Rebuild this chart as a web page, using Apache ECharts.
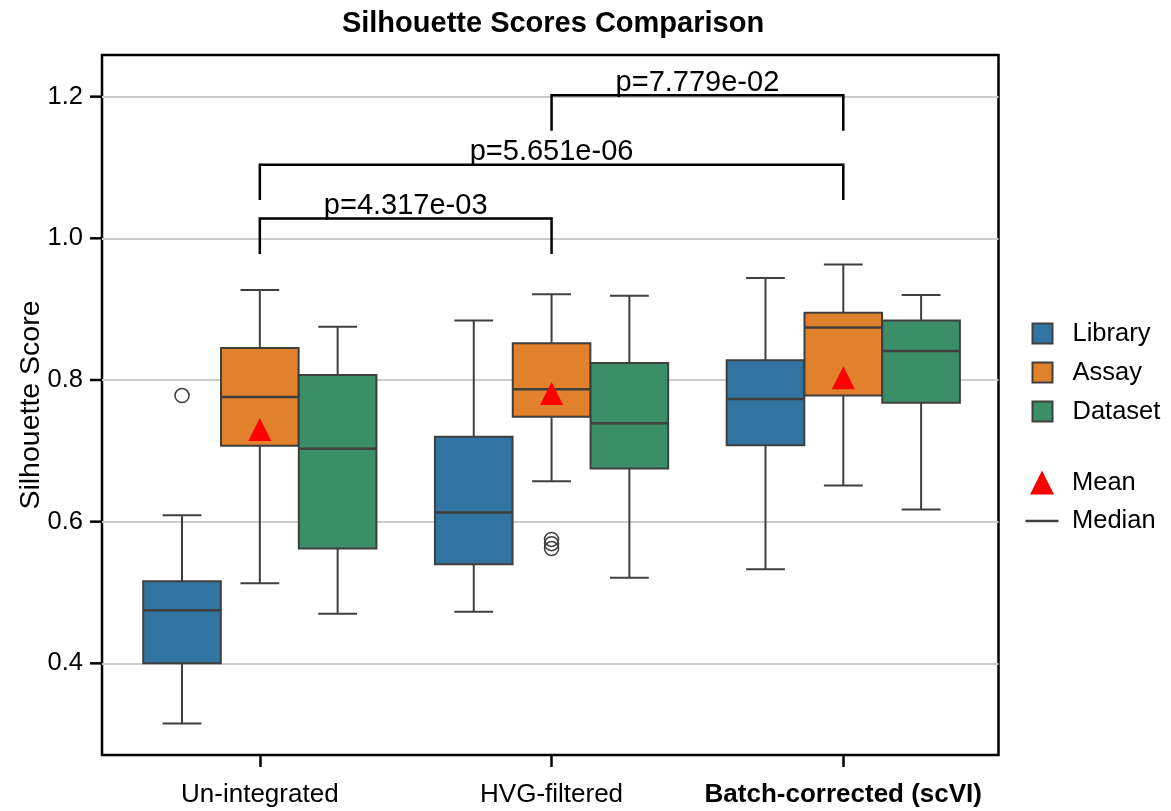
<!DOCTYPE html>
<html><head><meta charset="utf-8">
<script src="https://cdn.jsdelivr.net/npm/echarts@6/dist/echarts.min.js"></script>
<style>html,body{margin:0;padding:0;background:#fff;}#chart{width:1171px;height:811px;}</style>
</head><body><div id="chart"></div>
<script>
// ---------------- data ----------------
const groups = ['Un-integrated', 'HVG-filtered', 'Batch-corrected (scVI)'];
const hues = ['Library', 'Assay', 'Dataset'];
// per group: [whiskerLow, Q1, median, Q3, whiskerHigh]
const libraryBox = [
  [0.315, 0.400, 0.475, 0.516, 0.609],
  [0.473, 0.540, 0.613, 0.720, 0.884],
  [0.533, 0.708, 0.773, 0.828, 0.944]
];
const assayBox = [
  [0.513, 0.707, 0.776, 0.845, 0.927],
  [0.657, 0.748, 0.787, 0.852, 0.921],
  [0.651, 0.778, 0.874, 0.895, 0.963]
];
const datasetBox = [
  [0.470, 0.562, 0.703, 0.807, 0.875],
  [0.521, 0.675, 0.739, 0.824, 0.919],
  [0.617, 0.768, 0.841, 0.884, 0.920]
];
// outliers: [groupIndex, value]
const libraryFliers = [[0, 0.778]];
const assayFliers = [[1, 0.575], [1, 0.569], [1, 0.562]];
const datasetFliers = [];
// means of the Assay boxes
const assayMeans = [0.730, 0.781, 0.803];
// significance brackets
const bracketPairs = [[0, 1], [0, 2], [1, 2]];
const bracketLevels = [1.028, 1.104, 1.202];
const pValues = ['p=4.317e-03', 'p=5.651e-06', 'p=7.779e-02'];
const yTicks = [0.4, 0.6, 0.8, 1.0, 1.2];

// ---------------- styling ----------------
const FONT = "'Liberation Sans', Arial, Helvetica, sans-serif";
const colors = ['#3274a1', '#e1812c', '#3a8f69'];
const edgeColor = '#3f3f3f';
const hueOffsets = [-0.2667, 0, 0.2667];
const boxWidth = 0.266;
const bracketDrop = 0.05;
const X_MIN = -0.541, X_MAX = 2.532;
const TICK_LEN = 12;

function boxRenderer(hueIdx) {
  return function (params, api) {
    const g = api.value(0);
    const cx = g + hueOffsets[hueIdx];
    const w = api.size([boxWidth, 0])[0];
    const pLow = api.coord([cx, api.value(1)]);
    const pQ1 = api.coord([cx, api.value(2)]);
    const pMed = api.coord([cx, api.value(3)]);
    const pQ3 = api.coord([cx, api.value(4)]);
    const pHigh = api.coord([cx, api.value(5)]);
    const x = pQ1[0];
    const half = w / 2, cap = w / 4;
    const ls = { stroke: edgeColor, lineWidth: 2 };
    return {
      type: 'group', children: [
        { type: 'line', shape: { x1: x, y1: pQ1[1], x2: x, y2: pLow[1] }, style: ls },
        { type: 'line', shape: { x1: x, y1: pQ3[1], x2: x, y2: pHigh[1] }, style: ls },
        { type: 'line', shape: { x1: x - cap, y1: pLow[1], x2: x + cap, y2: pLow[1] }, style: ls },
        { type: 'line', shape: { x1: x - cap, y1: pHigh[1], x2: x + cap, y2: pHigh[1] }, style: ls },
        { type: 'rect', shape: { x: x - half, y: pQ3[1], width: w, height: pQ1[1] - pQ3[1] },
          style: { fill: colors[hueIdx], stroke: edgeColor, lineWidth: 2 } },
        { type: 'line', shape: { x1: x - half, y1: pMed[1], x2: x + half, y2: pMed[1] },
          style: { stroke: edgeColor, lineWidth: 2.5 } }
      ]
    };
  };
}

function bracketRenderer(params, api) {
  const x1 = api.value(0), x2 = api.value(1), y = api.value(2);
  const a = api.coord([x1, y - bracketDrop]);
  const b = api.coord([x1, y]);
  const c = api.coord([x2, y]);
  const d = api.coord([x2, y - bracketDrop]);
  return {
    type: 'group', children: [
      { type: 'polyline', shape: { points: [a, b, c, d] },
        style: { stroke: '#000', lineWidth: 2.5, fill: 'none' } },
      { type: 'text', x: (b[0] + c[0]) / 2, y: b[1] + 2,
        style: { text: pValues[params.dataIndex], fill: '#000', font: '29px ' + FONT,
                 align: 'center', verticalAlign: 'bottom' } }
    ]
  };
}

const boxSets = [libraryBox, assayBox, datasetBox];
const flierSets = [libraryFliers, assayFliers, datasetFliers];

const series = [];
hues.forEach((h, i) => {
  series.push({
    name: h, type: 'custom', renderItem: boxRenderer(i),
    itemStyle: { color: colors[i] },
    encode: { x: 0, y: [1, 2, 3, 4, 5] },
    data: boxSets[i].map((s, g) => [g].concat(s)),
    z: 3
  });
});
hues.forEach((h, i) => {
  if (!flierSets[i].length) return;
  series.push({
    name: h + ' outliers', type: 'scatter', symbol: 'circle', symbolSize: 14,
    itemStyle: { color: 'rgba(0,0,0,0)', borderColor: edgeColor, borderWidth: 1.5, opacity: 1 },
    data: flierSets[i].map(p => [p[0] + hueOffsets[i], p[1]]),
    z: 4
  });
});
series.push({
  name: 'Mean', type: 'scatter', symbol: 'triangle', symbolSize: 23,
  itemStyle: { color: '#ff0000', opacity: 1 },
  data: assayMeans.map((m, g) => [g + hueOffsets[1], m]),
  z: 6
});
series.push({ name: 'Median', type: 'scatter', itemStyle: { color: edgeColor, opacity: 1 }, data: [] });
series.push({
  name: 'brackets', type: 'custom', renderItem: bracketRenderer,
  data: bracketPairs.map((p, i) => [p[0], p[1], bracketLevels[i]]),
  encode: { x: [0, 1], y: 2 },
  z: 5, silent: true
});

const squareIcon = 'path://M0,0 L20,0 L20,20 L0,20 Z';
const triIcon = 'path://M12,0 L24,24 L0,24 Z';
const medIcon = 'path://M-8.5,-12 L-8.5,-12 M0,-1.25 L33,-1.25 L33,1.25 L0,1.25 Z M41.5,12 L41.5,12';

const option = {
  animation: false,
  backgroundColor: '#fff',
  textStyle: { fontFamily: FONT },
  title: {
    text: 'Silhouette Scores Comparison', left: 548, top: 4, textAlign: 'center',
    textStyle: { fontSize: 29, fontWeight: 'bold', color: '#000', fontFamily: FONT }
  },
  legend: [
    {
      orient: 'vertical', left: 1026.5, top: 315.5, itemWidth: 50, itemHeight: 20, itemGap: 13,
      data: hues.map(h => ({ name: h, icon: squareIcon })),
      itemStyle: { borderColor: edgeColor, borderWidth: 2 },
      textStyle: { fontSize: 25.5, color: '#000', fontFamily: FONT },
      selectedMode: false
    },
    {
      orient: 'vertical', left: 1012, top: 464.5, itemWidth: 50, itemHeight: 24, itemGap: 12.5,
      data: [{ name: 'Mean', icon: triIcon }, { name: 'Median', icon: medIcon }],
      itemStyle: { borderWidth: 0, opacity: 1 },
      textStyle: { fontSize: 25.5, color: '#000', fontFamily: FONT },
      selectedMode: false
    }
  ],
  grid: {
    left: 102, right: 172.5, top: 55, bottom: 56, containLabel: false,
    show: true, borderColor: '#000', borderWidth: 2.5, backgroundColor: 'transparent'
  },
  xAxis: {
    type: 'value', min: X_MIN, max: X_MAX, position: 'bottom',
    axisLine: { show: false, onZero: false },
    splitLine: { show: false },
    axisTick: { show: true, customValues: [0, 1, 2], length: TICK_LEN, lineStyle: { color: '#000', width: 2.5 } },
    axisLabel: {
      customValues: [0, 1, 2], margin: 27, fontSize: 26, color: '#000', fontFamily: FONT,
      formatter: v => {
        const i = Math.round(v);
        return i === 2 ? '{b|' + groups[i] + '}' : groups[i];
      },
      rich: { b: { fontWeight: 'bold', fontSize: 26, color: '#000', fontFamily: FONT } }
    }
  },
  yAxis: {
    type: 'value', min: 0.2706, max: 1.2588, position: 'left',
    name: 'Silhouette Score', nameLocation: 'middle', nameRotate: 90, nameGap: 56,
    nameMoveOverlap: false,
    nameTextStyle: { fontSize: 28.5, color: '#000', fontFamily: FONT },
    axisLine: { show: false, onZero: false },
    axisTick: { show: false, customValues: yTicks },
    axisLabel: {
      customValues: yTicks, margin: 19, fontSize: 25.5, color: '#000', fontFamily: FONT,
      formatter: v => v.toFixed(1)
    },
    splitLine: { show: true, lineStyle: { color: '#cccccc', width: 2 } }
  },
  series: series
};

const chart = echarts.init(document.getElementById('chart'), null, { renderer: 'canvas' });
chart.setOption(option);

// y-axis tick marks on the left frame, positioned through the grid's scales
const tickEls = [];
yTicks.forEach(v => {
  const p = chart.convertToPixel({ gridIndex: 0 }, [X_MIN, v]);
  if (p && isFinite(p[0]) && isFinite(p[1])) {
    tickEls.push({
      type: 'line', zlevel: 1, z: 100, silent: true,
      shape: { x1: p[0] - TICK_LEN, y1: p[1], x2: p[0], y2: p[1] },
      style: { stroke: '#000', lineWidth: 2.5 }
    });
  }
});
chart.setOption({ graphic: { elements: tickEls } });
</script></body></html>
